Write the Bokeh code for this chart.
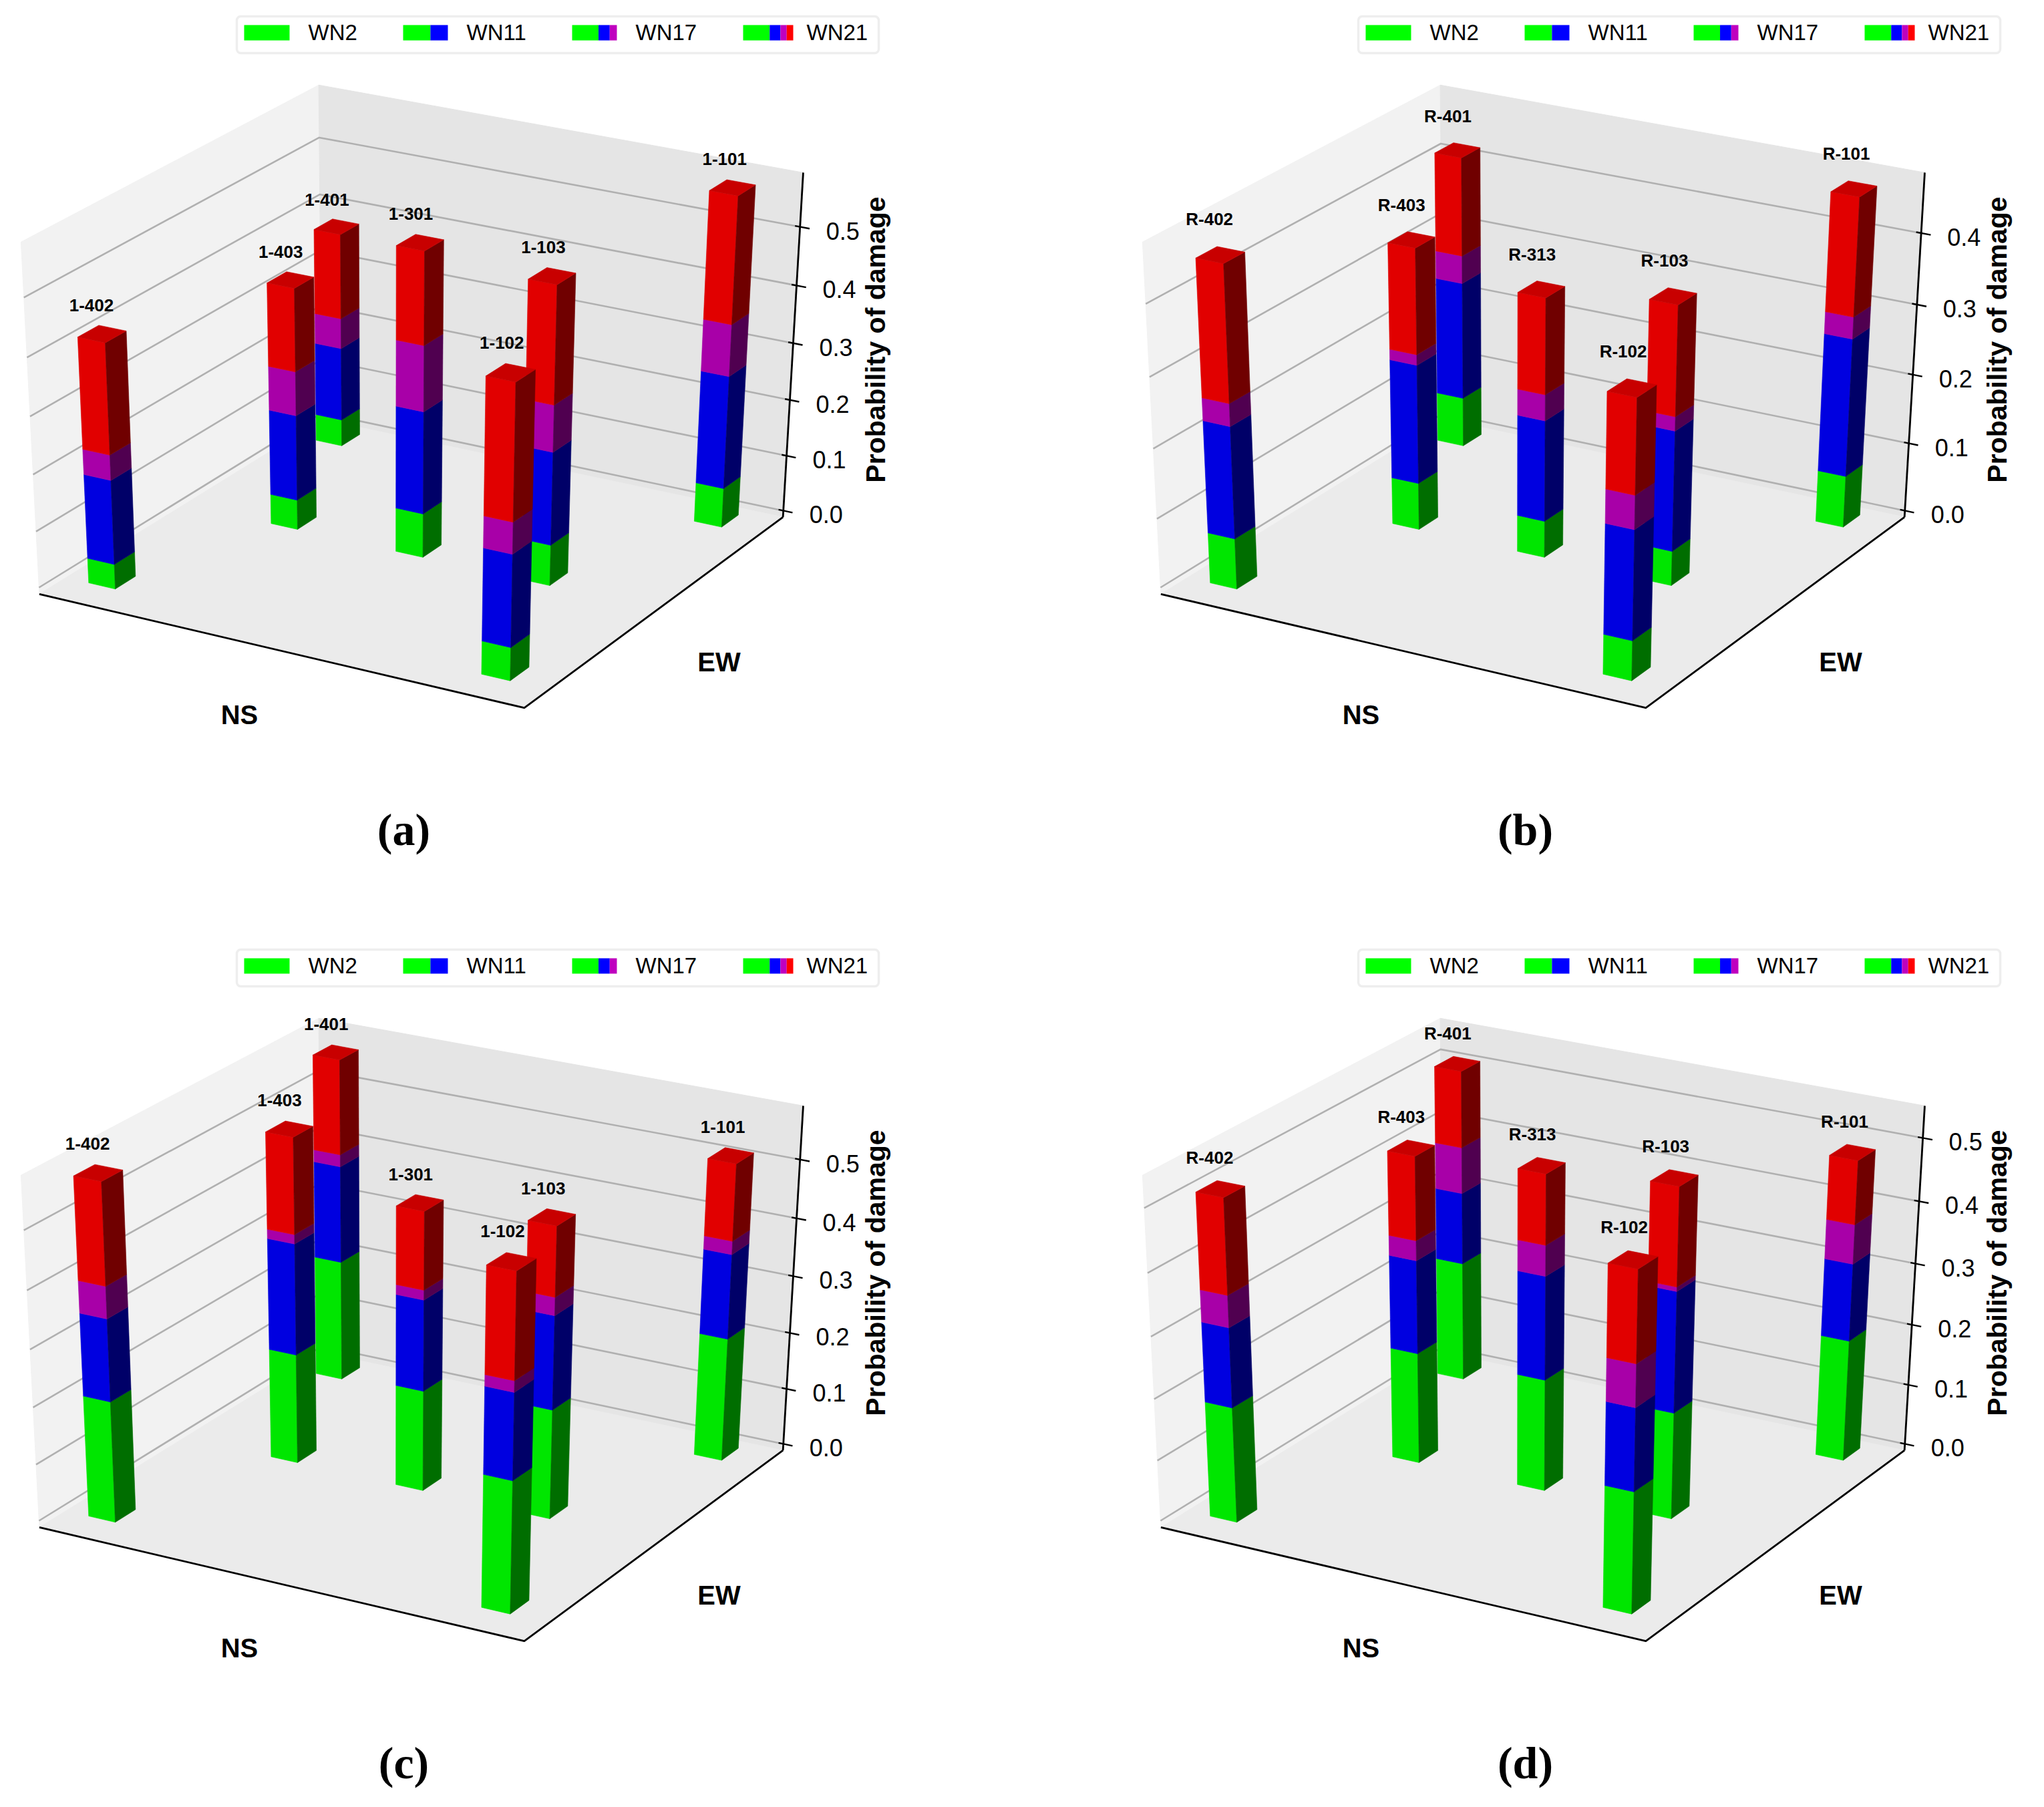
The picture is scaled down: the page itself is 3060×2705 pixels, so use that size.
import numpy as np

from bokeh.plotting import figure
from bokeh.models import ColumnDataSource, Range1d, BoxAnnotation
from bokeh.layouts import column, row
from bokeh.embed import file_html
from bokeh.resources import INLINE

# building positions on the plan, same order as the label lists (NS, EW)
ns_pos = [0.066, 0.206, 0.064, 0.473, 0.737, 0.880, 0.880]
ew_pos = [0.063, 0.469, 0.871, 0.469, 0.469, 0.063, 0.871]

labels_1 = ["1-402", "1-403", "1-401", "1-301", "1-103", "1-102", "1-101"]
labels_r = ["R-402", "R-403", "R-401", "R-313", "R-103", "R-102", "R-101"]

# probability increments per damage level
wn2_a = [0.044, 0.053, 0.048, 0.078, 0.072, 0.058, 0.070]
wn11_a = [0.148, 0.151, 0.131, 0.180, 0.163, 0.160, 0.199]
wn17_a = [0.044, 0.077, 0.054, 0.114, 0.081, 0.054, 0.090]
wn21_a = [0.191, 0.144, 0.150, 0.159, 0.202, 0.230, 0.218]

wn2_b = [0.073, 0.068, 0.072, 0.053, 0.050, 0.057, 0.075]
wn11_b = [0.160, 0.171, 0.170, 0.145, 0.172, 0.155, 0.198]
wn17_b = [0.032, 0.015, 0.040, 0.037, 0.020, 0.047, 0.031]
wn21_b = [0.191, 0.149, 0.140, 0.135, 0.154, 0.131, 0.166]

wn2_c = [0.212, 0.193, 0.214, 0.177, 0.192, 0.229, 0.217]
wn11_c = [0.142, 0.193, 0.170, 0.158, 0.162, 0.147, 0.147]
wn17_c = [0.055, 0.016, 0.021, 0.017, 0.031, 0.019, 0.023]
wn21_c = [0.173, 0.164, 0.164, 0.133, 0.119, 0.177, 0.131]

wn2_d = [0.188, 0.182, 0.197, 0.183, 0.174, 0.196, 0.199]
wn11_d = [0.128, 0.151, 0.117, 0.167, 0.194, 0.131, 0.125]
wn17_d = [0.051, 0.032, 0.075, 0.049, 0.007, 0.067, 0.063]
wn21_d = [0.151, 0.133, 0.123, 0.111, 0.155, 0.142, 0.101]

ticks_a = [0.0, 0.1, 0.2, 0.3, 0.4, 0.5]
ticks_b = [0.0, 0.1, 0.2, 0.3, 0.4]

legend_names = ["WN2", "WN11", "WN17", "WN21"]

BAR_DX = 0.057
BAR_DY = 0.068

# face colours per level: front, side, top
faces = {
    "wn2": ("#00e600", "#006e00", "#00c800"),
    "wn11": ("#0000e0", "#000068", "#0000c8"),
    "wn17": ("#a800a8", "#500050", "#900090"),
    "wn21": ("#e10000", "#700000", "#c80000"),
}
legend_cols = ["#00ff00", "#0000ff", "#bf00bf", "#ff0000"]

# camera: corners of the axes box (ns, ew, height 0-1) and where they land in a panel
box_corners = [
    (0, 0, 0, 62.0, 890.7), (1, 0, 0, 786.3, 1061.3), (1, 1, 0, 1174.7, 775.3),
    (0, 1, 0, 481.0, 629.5), (0, 0, 1, 31.3, 363.7), (0, 1, 1, 481.0, 128.7),
    (1, 1, 1, 1203.0, 260.0),
]


def fit_camera(corners):
    A, b = [], []
    for x, y, z, px, py in corners:
        A.append([x, y, z, 1, 0, 0, 0, 0, -px * x, -px * y, -px * z])
        A.append([0, 0, 0, 0, x, y, z, 1, -py * x, -py * y, -py * z])
        b += [px, py]
    m = np.linalg.lstsq(np.array(A, dtype=float), np.array(b, dtype=float), rcond=None)[0]
    return np.append(m, 1.0).reshape(3, 4)


CAM = fit_camera(box_corners)


def project(x, y, z):
    h = CAM @ np.array([x, y, z, 1.0])
    return h[0] / h[2], h[1] / h[2]


def quad3d(points):
    pts = [project(*p) for p in points]
    return [p[0] for p in pts], [p[1] for p in pts]


def add_frame(p, zmax, ticks):
    zmin = -zmax / 50
    zeta = lambda z: (z - zmin) / (zmax - zmin)

    walls = [
        ([(0, 0, 0), (0, 1, 0), (0, 1, 1), (0, 0, 1)], "#f2f2f2"),
        ([(0, 1, 0), (1, 1, 0), (1, 1, 1), (0, 1, 1)], "#e5e5e5"),
        ([(0, 0, 0), (1, 0, 0), (1, 1, 0), (0, 1, 0)], "#ebebeb"),
    ]
    for pts, col in walls:
        xs, ys = quad3d(pts)
        p.patch(xs, ys, fill_color=col, line_color=col, line_width=1)

    for t in ticks:
        xs, ys = quad3d([(0, 0, zeta(t)), (0, 1, zeta(t)), (1, 1, zeta(t))])
        p.line(xs, ys, line_color="#b0b0b0", line_width=2.6)
        xs, ys = quad3d([(0.99, 1, zeta(t)), (1.019, 1, zeta(t))])
        p.line(xs, ys, line_color="black", line_width=2.4)

    for pts in ([(0, 0, 0), (1, 0, 0), (1, 1, 0)], [(1, 1, 0), (1, 1, 1)]):
        xs, ys = quad3d(pts)
        p.line(xs, ys, line_color="black", line_width=2.8)

    tx, ty = [], []
    for t in ticks:
        a, b = project(1, 1, zeta(t))
        tx.append(a)
        ty.append(b)
    p.text(tx, ty, text=["%.1f" % t for t in ticks], x_offset=64, y_offset=6,
           text_align="center", text_baseline="middle",
           text_font={"value": "Liberation Sans"}, text_font_size="36px", text_color="black")
    return zeta


def add_bars(p, labels, wn2, wn11, wn17, wn21, zmax, zeta):
    levels = list(zip(["wn2", "wn11", "wn17", "wn21"], [wn2, wn11, wn17, wn21]))
    # far bars first so that near ones cover them
    order = sorted(range(len(labels)), key=lambda i: ns_pos[i] - ew_pos[i])

    xs, ys, cols = [], [], []
    lx, ly, lt = [], [], []
    for i in order:
        x0, y0 = ns_pos[i], ew_pos[i]
        x1, y1 = x0 + BAR_DX, y0 + BAR_DY
        bottom = 0.0
        for name, vals in levels:
            top = bottom + vals[i]
            zb, zt = zeta(bottom), zeta(top)
            front, side, lid = faces[name]
            for pts, col in (
                ([(x0, y0, zb), (x1, y0, zb), (x1, y0, zt), (x0, y0, zt)], front),
                ([(x1, y0, zb), (x1, y1, zb), (x1, y1, zt), (x1, y0, zt)], side),
            ):
                a, b = quad3d(pts)
                xs.append(a)
                ys.append(b)
                cols.append(col)
            bottom = top
        a, b = quad3d([(x0, y0, zeta(bottom)), (x1, y0, zeta(bottom)), (x1, y1, zeta(bottom)), (x0, y1, zeta(bottom))])
        xs.append(a)
        ys.append(b)
        cols.append(lid)

        c, d = project(x0 + BAR_DX / 2, y0 + BAR_DY / 2, zeta(bottom + 0.048))
        lx.append(c)
        ly.append(d)
        lt.append(labels[i])

    src = ColumnDataSource(dict(xs=xs, ys=ys, col=cols))
    p.patches("xs", "ys", source=src, fill_color="col", line_color="col", line_width=0.6)
    p.text(lx, ly, text=lt, x_offset=-14, text_align="center", text_baseline="middle",
           text_font={"value": "Liberation Sans"}, text_font_style="bold",
           text_font_size="26px", text_color="black")


def add_legend(p):
    box = BoxAnnotation(left=356, right=1317, top=26, bottom=81, border_radius=6, fill_alpha=0,
                        line_color="#c8c8c8", line_width=3.5)
    p.add_layout(box)
    starts = [367, 605, 858, 1114]
    widths = [68, 67, 67, 75]
    shares = [[1.0], [0.61, 0.39], [0.59, 0.25, 0.16], [0.53, 0.215, 0.125, 0.13]]
    text_x = [463, 700, 953, 1209]
    for s, w, sh, name, tx in zip(starts, widths, shares, legend_names, text_x):
        left = s
        for k, f in enumerate(sh):
            p.quad(left=left, right=left + w * f, top=39, bottom=62,
                   fill_color=legend_cols[k], line_color=None)
            left += w * f
        p.text([tx], [50], text=[name], text_align="left", text_baseline="middle",
               text_font={"value": "Liberation Sans"}, text_font_size="33px", text_color="black")


def panel(width, height, x_start, y_start, labels, wn2, wn11, wn17, wn21, zmax, ticks, letter):
    p = figure(width=width, height=height, output_backend="svg", toolbar_location=None,
               x_range=Range1d(x_start, x_start + width), y_range=Range1d(y_start + height, y_start),
               min_border=0, outline_line_color=None, background_fill_color="white")
    p.axis.visible = False
    p.grid.visible = False

    zeta = add_frame(p, zmax, ticks)
    add_bars(p, labels, wn2, wn11, wn17, wn21, zmax, zeta)
    add_legend(p)

    p.text([360], [1071], text=["NS"], text_align="center", text_baseline="middle",
           text_font={"value": "Liberation Sans"}, text_font_style="bold", text_font_size="40px")
    p.text([1078], [992], text=["EW"], text_align="center", text_baseline="middle",
           text_font={"value": "Liberation Sans"}, text_font_style="bold", text_font_size="40px")
    p.text([1312], [510], text=["Probability of damage"], angle=np.pi / 2,
           text_align="center", text_baseline="middle",
           text_font={"value": "Liberation Sans"}, text_font_style="bold", text_font_size="41px")
    p.text([606], [1243], text=[letter], text_align="center", text_baseline="middle",
           text_font={"value": "Liberation Serif"}, text_font_style="bold", text_font_size="68px")
    return p


W, H1, H2 = 1522, 1344, 1345
pa = panel(W, H1, 2, 2, labels_1, wn2_a, wn11_a, wn17_a, wn21_a, 0.591, ticks_a, "(a)")
pb = panel(W, H1, -155, 2, labels_r, wn2_b, wn11_b, wn17_b, wn21_b, 0.483, ticks_b, "(b)")
pc = panel(W, H2, 2, -51, labels_1, wn2_c, wn11_c, wn17_c, wn21_c, 0.59, ticks_a, "(c)")
pd = panel(W, H2, -155, -51, labels_r, wn2_d, wn11_d, wn17_d, wn21_d, 0.55, ticks_a, "(d)")

layout = column(row(pa, pb), row(pc, pd))
open("out.html", "w").write(file_html(layout, INLINE))
